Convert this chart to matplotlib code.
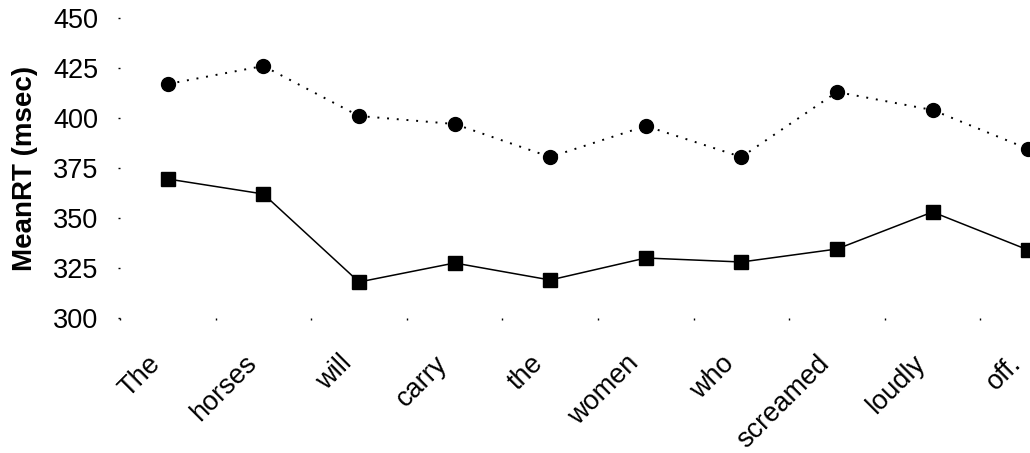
import matplotlib
matplotlib.use("Agg")
import matplotlib.pyplot as plt
import matplotlib.transforms as mtransforms
import numpy as np

plt.rcParams['font.family'] = ['Liberation Sans', 'DejaVu Sans']

words = ["The", "horses", "will", "carry", "the", "women", "who", "screamed", "loudly", "off."]
rt_circle = [417, 426, 401, 397, 380.5, 396, 380.5, 413, 404, 384.5]
rt_square = [369.5, 362, 318, 327.5, 319, 330, 328, 334.5, 353, 334]
y_ticks = [300, 325, 350, 375, 400, 425, 450]

fig = plt.figure(figsize=(10.30, 4.53), dpi=100)
ax = fig.add_axes([120 / 1030, 135 / 453, 956 / 1030, 300 / 453])

x = np.arange(len(words)) + 0.5

ax.plot(x, rt_circle, color='black', linestyle=(0, (1, 4)), linewidth=1.4,
        marker='o', markersize=10, clip_on=False)
ax.plot(x, rt_square, color='black', linestyle='-', linewidth=1.1,
        marker='s', markersize=10, clip_on=False)

ax.set_xlim(0, len(words))
ax.set_ylim(300, 450)

for s in ax.spines.values():
    s.set_visible(False)

ax.set_yticks(y_ticks)
ax.set_yticklabels([str(t) for t in y_ticks], fontsize=19.5)
ax.tick_params(axis='y', length=1.5, width=1, pad=14, color='black')

# category ticks between words, labels centred on each word
ax.set_xticks(np.arange(len(words)), minor=False)
ax.set_xticklabels([''] * len(words))
ax.tick_params(axis='x', which='major', length=1.5, width=1, color='black')
ax.set_xticks(x, minor=True)
ax.set_xticklabels(words, minor=True, fontsize=19.5, rotation=45,
                   ha='right', va='center', rotation_mode='anchor')
ax.tick_params(axis='x', which='minor', length=0, pad=30)
shift = mtransforms.ScaledTranslation(-11 / 100, 0, fig.dpi_scale_trans)
for lbl in ax.get_xticklabels(minor=True):
    lbl.set_transform(lbl.get_transform() + shift)

ax.set_ylabel("MeanRT (msec)", fontsize=20, fontweight='bold')
ax.yaxis.set_label_coords(-82 / 956, 0.5)

fig.savefig("out.png", dpi=100)
